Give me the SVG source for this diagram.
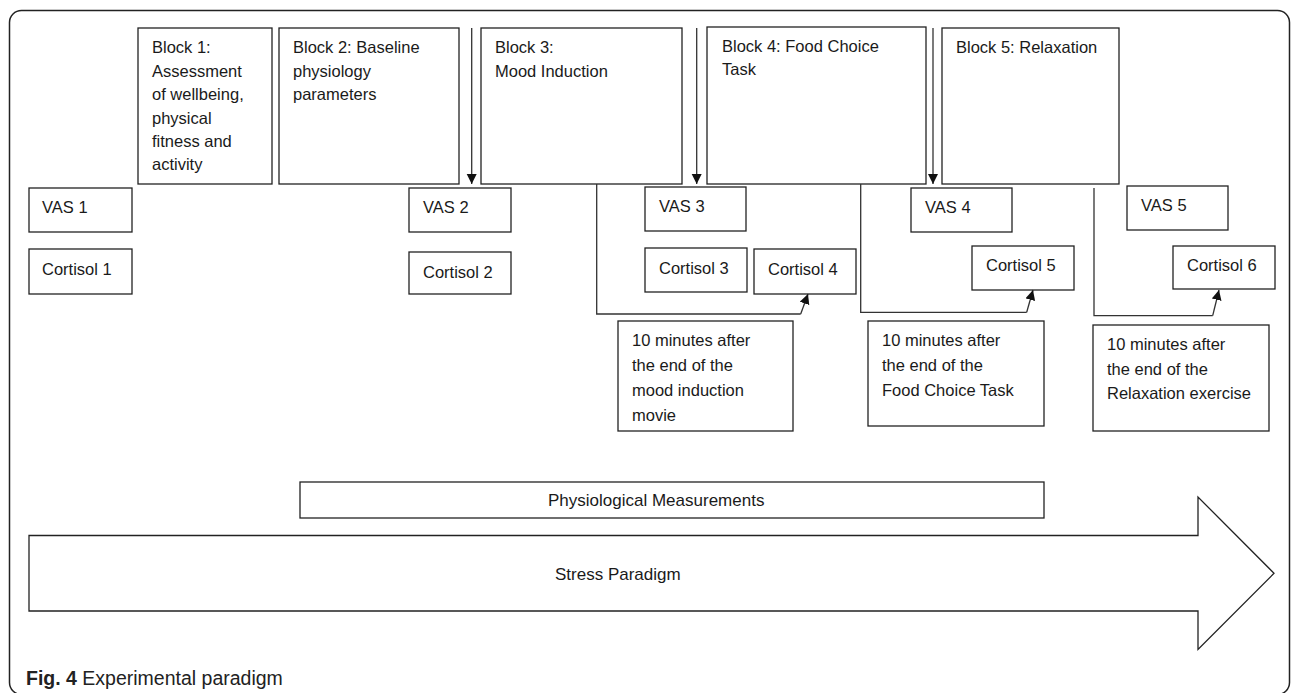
<svg xmlns="http://www.w3.org/2000/svg" width="1292" height="693" viewBox="0 0 1292 693">
<defs>
<marker id="ah" markerUnits="userSpaceOnUse" markerWidth="11" markerHeight="11" refX="10" refY="5" orient="auto">
<path d="M0,0 L10,5 L0,10 z" fill="#111"/>
</marker>
<style>
.box{fill:#fff;stroke:#222;stroke-width:1.3}
.t{font-family:"Liberation Sans",Arial,sans-serif;font-size:16.5px;fill:#1a1a1a}
.s{font-family:"Liberation Sans",Arial,sans-serif;font-size:17px;fill:#1a1a1a}
.ln{fill:none;stroke:#333;stroke-width:1.3}
.cap{font-family:"Liberation Sans",Arial,sans-serif;font-size:19.5px;fill:#222}
</style>
</defs>
<rect width="1292" height="693" fill="#fff"/>
<rect x="9.5" y="10.5" width="1280" height="684" rx="12" fill="none" stroke="#222" stroke-width="1.5"/>

<g id="block1"><rect class="box" x="138" y="28" width="134" height="156"/>
<text class="t" x="152" y="53">Block 1:<tspan x="152" y="76.5">Assessment</tspan><tspan x="152" y="100">of wellbeing,</tspan><tspan x="152" y="123.5">physical</tspan><tspan x="152" y="147">fitness and</tspan><tspan x="152" y="170">activity</tspan></text></g>
<g id="block2"><rect class="box" x="279" y="28" width="180" height="156"/>
<text class="t" x="293" y="53">Block 2: Baseline<tspan x="293" y="76.5">physiology</tspan><tspan x="293" y="100">parameters</tspan></text></g>
<g id="block3"><rect class="box" x="481" y="28" width="201" height="156"/>
<text class="t" x="495" y="53">Block 3:<tspan x="495" y="76.5">Mood Induction</tspan></text></g>
<g id="block4"><rect class="box" x="707" y="27" width="219" height="157"/>
<text class="t" x="722" y="51.5">Block 4: Food Choice<tspan x="722" y="75">Task</tspan></text></g>
<g id="block5"><rect class="box" x="942" y="28" width="177" height="156"/>
<text class="t" x="956" y="53">Block 5: Relaxation</text></g>

<g id="vas1"><rect class="box" x="29" y="188" width="103" height="44"/><text class="t" x="42" y="213">VAS 1</text></g>
<g id="cortisol1"><rect class="box" x="29" y="249" width="103" height="45"/><text class="t" x="42" y="275">Cortisol 1</text></g>
<g id="vas2"><rect class="box" x="409" y="188" width="102" height="44"/><text class="t" x="423" y="213">VAS 2</text></g>
<g id="cortisol2"><rect class="box" x="409" y="252" width="102" height="42"/><text class="t" x="423" y="278">Cortisol 2</text></g>
<g id="vas3"><rect class="box" x="645" y="187" width="101" height="44"/><text class="t" x="659" y="212">VAS 3</text></g>
<g id="cortisol3"><rect class="box" x="645" y="248" width="102" height="44"/><text class="t" x="659" y="274">Cortisol 3</text></g>
<g id="cortisol4"><rect class="box" x="754" y="249" width="102" height="45"/><text class="t" x="768" y="275">Cortisol 4</text></g>
<g id="vas4"><rect class="box" x="911" y="188" width="101" height="44"/><text class="t" x="925" y="213">VAS 4</text></g>
<g id="cortisol5"><rect class="box" x="972" y="246" width="102" height="44"/><text class="t" x="986" y="271">Cortisol 5</text></g>
<g id="vas5"><rect class="box" x="1127" y="186" width="101" height="44"/><text class="t" x="1141" y="211">VAS 5</text></g>
<g id="cortisol6"><rect class="box" x="1173" y="246" width="102" height="43"/><text class="t" x="1187" y="271">Cortisol 6</text></g>

<g id="note1"><rect class="box" x="618" y="321" width="175" height="110"/>
<text class="t" x="632" y="346">10 minutes after<tspan x="632" y="371">the end of the</tspan><tspan x="632" y="396">mood induction</tspan><tspan x="632" y="421">movie</tspan></text></g>
<g id="note2"><rect class="box" x="868" y="321" width="176" height="105"/>
<text class="t" x="882" y="346">10 minutes after<tspan x="882" y="371">the end of the</tspan><tspan x="882" y="396">Food Choice Task</tspan></text></g>
<g id="note3"><rect class="box" x="1093" y="325" width="176" height="106"/>
<text class="t" x="1107" y="350">10 minutes after<tspan x="1107" y="374.5">the end of the</tspan><tspan x="1107" y="399">Relaxation exercise</tspan></text></g>

<g id="physio"><rect class="box" x="300" y="482" width="744" height="36"/>
<text class="s" x="548" y="506">Physiological Measurements</text></g>
<g id="stress"><path class="box" d="M29,535.5 H1198 V497 L1274,573.3 L1198,649.5 V611 H29 Z" stroke-width="1.6"/>
<text class="s" x="555" y="580">Stress Paradigm</text></g>

<g id="connectors">
<line class="ln" x1="471.7" y1="28" x2="471.7" y2="184" marker-end="url(#ah)"/>
<line class="ln" x1="696.7" y1="28" x2="696.7" y2="184" marker-end="url(#ah)"/>
<line class="ln" x1="933" y1="28" x2="933" y2="184" marker-end="url(#ah)"/>
<polyline class="ln" points="596.7,184 596.7,314 800.7,314"/>
<line class="ln" x1="800.7" y1="314" x2="808" y2="294" marker-end="url(#ah)"/>
<polyline class="ln" points="860.7,184 860.7,312.3 1026.7,312.3"/>
<line class="ln" x1="1026.7" y1="312.3" x2="1033" y2="290" marker-end="url(#ah)"/>
<polyline class="ln" points="1094,188 1094,315.7 1212.7,315.7"/>
<line class="ln" x1="1212.7" y1="315.7" x2="1219" y2="290" marker-end="url(#ah)"/>
</g>

<text class="cap" x="26" y="685"><tspan font-weight="bold">Fig. 4</tspan> Experimental paradigm</text>
</svg>
